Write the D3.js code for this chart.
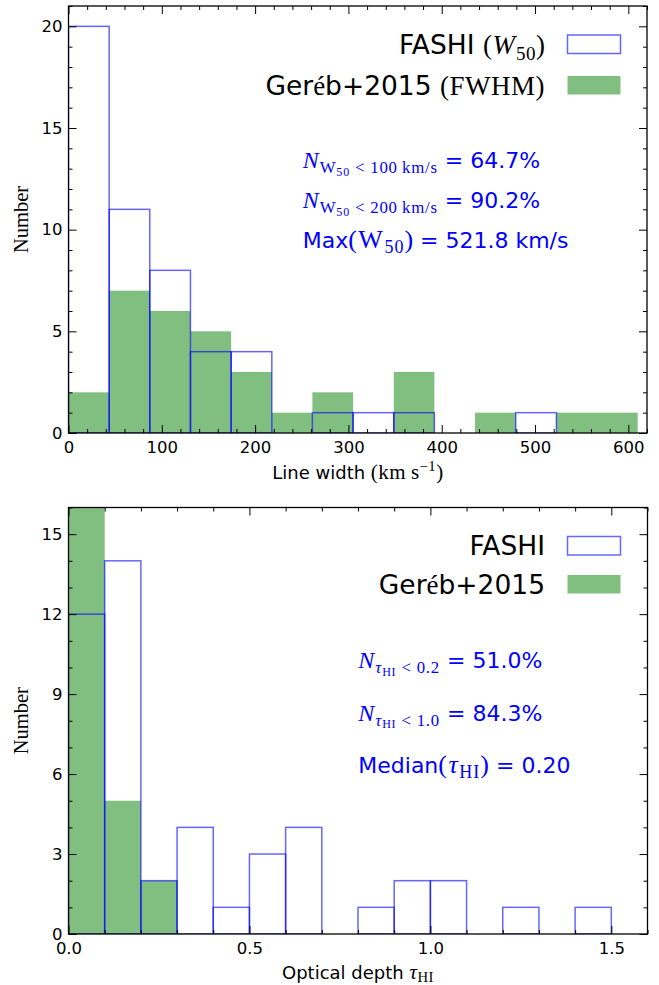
<!DOCTYPE html>
<html>
<head>
<meta charset="utf-8">
<script src="https://cdn.jsdelivr.net/npm/d3@7"></script>
<style>
  html, body { margin: 0; padding: 0; background: #fff; }
  svg { display: block; }
  .tick text { font-family: "DejaVu Sans", sans-serif; font-size: 16.5px; fill: #000; }
  .tick line { stroke: #000; stroke-width: 1; }
</style>
</head>
<body>
<script>
// Line-width histogram (km/s): shared bin edges and counts per survey
const lwEdges  = [0, 43.6, 87.1, 130.7, 174.3, 217.9, 261.4, 305.0, 348.6, 392.1, 435.7, 479.3, 522.9, 566.4, 610.0];
const lwFashi  = [20, 11, 8, 4, 4, 0, 1, 1, 1, 0, 0, 1, 0, 0];
const lwGereb  = [2, 7, 6, 5, 3, 1, 2, 0, 3, 0, 1, 0, 1, 1];
const lwXTicks = [0, 100, 200, 300, 400, 500, 600];
const lwYTicks = [0, 5, 10, 15, 20];

// Optical-depth histogram: bin edges and counts
const tauEdges  = [0, 0.1, 0.2, 0.3, 0.4, 0.5, 0.6, 0.7, 0.8, 0.9, 1.0, 1.1, 1.2, 1.3, 1.4, 1.5];
const tauFashi  = [12, 14, 2, 4, 1, 3, 4, 0, 1, 2, 2, 0, 1, 0, 1];
const tauGereb  = [16, 5, 2, 0, 0, 0, 0, 0, 0, 0, 0, 0, 0, 0, 0];
const tauXTicks = [0, 0.5, 1.0, 1.5];
const tauYTicks = [0, 3, 6, 9, 12, 15];

const W = 659, H = 985;
const SANS = "DejaVu Sans, sans-serif";
const SERIF = "Liberation Serif, DejaVu Serif, serif";
const BLUE = "#0000ff";
const GREEN_FILL = "#80bf80";

const svg = d3.select("body").append("svg")
  .attr("width", W).attr("height", H)
  .attr("viewBox", `0 0 ${W} ${H}`);

// Rich text: a list of runs, each with its own font, spacing and vertical shift
function richText(parent, x, y, runs, anchor, fill) {
  const t = parent.append("text")
    .attr("x", x).attr("y", y)
    .attr("text-anchor", anchor || "start")
    .attr("fill", fill || "#000");
  let prev = 0;
  runs.forEach(r => {
    const shift = r.shift || 0;
    t.append("tspan")
      .attr("dy", shift - prev)
      .attr("font-family", r.serif ? SERIF : SANS)
      .attr("font-style", r.italic ? "italic" : "normal")
      .attr("font-size", r.size + "px")
      .attr("letter-spacing", (r.ls || 0) + "px")
      .style("white-space", "pre")
      .text(r.t);
    prev = shift;
  });
  return t;
}

function panel(cfg) {
  const g = svg.append("g");
  const x = d3.scaleLinear().domain(cfg.xDomain).range([cfg.left, cfg.right]);
  const y = d3.scaleLinear().domain(cfg.yDomain).range([cfg.bottom, cfg.top]);

  const clipId = "clip-" + cfg.id;
  svg.append("clipPath").attr("id", clipId).append("rect")
    .attr("x", cfg.left).attr("y", cfg.top)
    .attr("width", cfg.right - cfg.left).attr("height", cfg.bottom - cfg.top);

  const bars = g.append("g").attr("clip-path", `url(#${clipId})`);

  // Filled comparison sample
  const gereb = cfg.gereb.map((v, i) => ({ x0: cfg.edges[i], x1: cfg.edges[i + 1], v })).filter(d => d.v > 0);
  bars.selectAll("rect.gereb").data(gereb).join("rect")
    .attr("class", "gereb")
    .attr("x", d => x(d.x0)).attr("width", d => x(d.x1) - x(d.x0))
    .attr("y", d => y(d.v)).attr("height", d => y(0) - y(d.v))
    .attr("fill", GREEN_FILL);

  // Outlined FASHI sample on top
  const fashi = cfg.fashi.map((v, i) => ({ x0: cfg.edges[i], x1: cfg.edges[i + 1], v })).filter(d => d.v > 0);
  bars.selectAll("rect.fashi").data(fashi).join("rect")
    .attr("class", "fashi")
    .attr("x", d => x(d.x0)).attr("width", d => x(d.x1) - x(d.x0))
    .attr("y", d => y(d.v)).attr("height", d => y(0) - y(d.v))
    .attr("fill", "none")
    .attr("stroke", BLUE).attr("stroke-opacity", 0.6).attr("stroke-width", 1.5);

  // Axes with inward major and minor ticks on all four sides
  const ax = g.append("g");
  const major = 8, minor = 4;
  ax.append("g").attr("transform", `translate(0,${cfg.bottom})`)
    .call(d3.axisBottom(x).tickValues(cfg.xTicks).tickSize(-major).tickPadding(8).tickFormat(cfg.xFmt));
  ax.append("g").attr("transform", `translate(0,${cfg.bottom})`)
    .call(d3.axisBottom(x).tickValues(cfg.xMinor).tickSize(-minor).tickFormat(""));
  ax.append("g").attr("transform", `translate(0,${cfg.top})`)
    .call(d3.axisTop(x).tickValues(cfg.xTicks).tickSize(-major).tickFormat(""));
  ax.append("g").attr("transform", `translate(0,${cfg.top})`)
    .call(d3.axisTop(x).tickValues(cfg.xMinor).tickSize(-minor).tickFormat(""));
  ax.append("g").attr("transform", `translate(${cfg.left},0)`)
    .call(d3.axisLeft(y).tickValues(cfg.yTicks).tickSize(-major).tickPadding(6).tickFormat(d3.format("d")));
  ax.append("g").attr("transform", `translate(${cfg.left},0)`)
    .call(d3.axisLeft(y).tickValues(cfg.yMinor).tickSize(-minor).tickFormat(""));
  ax.append("g").attr("transform", `translate(${cfg.right},0)`)
    .call(d3.axisRight(y).tickValues(cfg.yTicks).tickSize(-major).tickFormat(""));
  ax.append("g").attr("transform", `translate(${cfg.right},0)`)
    .call(d3.axisRight(y).tickValues(cfg.yMinor).tickSize(-minor).tickFormat(""));
  ax.selectAll(".domain").remove();

  g.append("rect")
    .attr("x", cfg.left).attr("y", cfg.top)
    .attr("width", cfg.right - cfg.left).attr("height", cfg.bottom - cfg.top)
    .attr("fill", "none").attr("stroke", "#000").attr("stroke-width", 1.3);

  // Y label
  g.append("text")
    .attr("transform", `translate(28,${(cfg.top + cfg.bottom) / 2}) rotate(-90)`)
    .attr("text-anchor", "middle")
    .attr("font-family", SERIF).attr("font-size", "20.5px")
    .text("Number");

  // X label
  richText(g, (cfg.left + cfg.right) / 2, cfg.xLabelY, cfg.xLabel, "middle");

  // Legend
  cfg.legend.forEach(row => {
    richText(g, 545, row.y, row.runs, "end");
    const r = g.append("rect")
      .attr("x", 567.5).attr("y", row.y - 18.5)
      .attr("width", 53).attr("height", 18.5);
    if (row.kind === "outline") {
      r.attr("fill", "#fff").attr("stroke", BLUE).attr("stroke-opacity", 0.6).attr("stroke-width", 1.5);
    } else {
      r.attr("fill", GREEN_FILL);
    }
  });

  // Summary statistics
  cfg.notes.forEach(n => richText(g, cfg.noteX, n.y, n.runs, "start", BLUE));
}

// Text sizes: sans body, math main / subscript / second-level subscript
const S = 22, M = 24, M1 = 16.8, M2 = 12;
const MB = 26, MB1 = 18;
const L = 26.5, LM = 27, LM1 = 19;

panel({
  id: "lw",
  left: 68.5, right: 647, top: 6, bottom: 433,
  xDomain: [0, 620], yDomain: [0, 21],
  edges: lwEdges, fashi: lwFashi, gereb: lwGereb,
  xTicks: lwXTicks, yTicks: lwYTicks,
  xMinor: d3.range(0, 621, 20).filter(v => v % 100 !== 0),
  yMinor: d3.range(0, 22, 1).filter(v => v % 5 !== 0),
  xFmt: d3.format("d"),
  xLabelY: 478.5,
  xLabel: [
    { t: "Line width ", size: 18 },
    { t: "(km\u2009s", size: 21, serif: true, ls: 0.5 },
    { t: "\u22121", size: 14.7, serif: true, ls: 0.5, shift: -8 },
    { t: ")", size: 21, serif: true, shift: 0 }
  ],
  legend: [
    { y: 53.5, kind: "outline", runs: [
      { t: "FASHI ", size: L },
      { t: "(", size: LM, serif: true, ls: 0.5 },
      { t: "W", size: LM, serif: true, italic: true, ls: 1 },
      { t: "50", size: LM1, serif: true, ls: 0.5, shift: 6 },
      { t: ")", size: LM, serif: true, shift: 0 }
    ]},
    { y: 94.5, kind: "fill", runs: [
      { t: "Ger", size: L },
      { t: "é", size: LM, serif: true },
      { t: "b+2015 ", size: L },
      { t: "(FWHM)", size: LM, serif: true, ls: 0.5 }
    ]}
  ],
  noteX: 302.7,
  notes: [
    { y: 168.3, runs: [
      { t: "N", size: M, serif: true, italic: true, ls: 1 },
      { t: "W", size: M1, serif: true, ls: 0.8, shift: 5 },
      { t: "50", size: M2, serif: true, ls: 0.8, shift: 7.5 },
      { t: " < 100\u2009km/s", size: M1, serif: true, ls: 0.8, shift: 5 },
      { t: " = 64.7%", size: S, shift: 0 }
    ]},
    { y: 208.3, runs: [
      { t: "N", size: M, serif: true, italic: true, ls: 1 },
      { t: "W", size: M1, serif: true, ls: 0.8, shift: 5 },
      { t: "50", size: M2, serif: true, ls: 0.8, shift: 7.5 },
      { t: " < 200\u2009km/s", size: M1, serif: true, ls: 0.8, shift: 5 },
      { t: " = 90.2%", size: S, shift: 0 }
    ]},
    { y: 248.3, runs: [
      { t: "Max", size: S },
      { t: "(W", size: MB, serif: true, ls: 1.5 },
      { t: "50", size: MB1, serif: true, ls: 1, shift: 5 },
      { t: ")", size: MB, serif: true, shift: 0 },
      { t: " = 521.8 km/s", size: S }
    ]}
  ]
});

panel({
  id: "tau",
  left: 68.5, right: 647.5, top: 507.5, bottom: 934,
  xDomain: [0, 1.6], yDomain: [0, 16],
  edges: tauEdges, fashi: tauFashi, gereb: tauGereb,
  xTicks: tauXTicks, yTicks: tauYTicks,
  xMinor: d3.range(0, 17, 1).filter(v => v % 5 !== 0).map(v => v / 10),
  yMinor: d3.range(0, 17, 1).filter(v => v % 3 !== 0),
  xFmt: d3.format(".1f"),
  xLabelY: 979,
  xLabel: [
    { t: "Optical depth ", size: 18 },
    { t: "τ", size: 21, serif: true, italic: true, ls: 0.5 },
    { t: "HI", size: 14.7, serif: true, ls: 0.5, shift: 2.5 }
  ],
  legend: [
    { y: 555, kind: "outline", runs: [ { t: "FASHI", size: L } ] },
    { y: 593.5, kind: "fill", runs: [
      { t: "Ger", size: L },
      { t: "é", size: LM, serif: true },
      { t: "b+2015", size: L }
    ]}
  ],
  noteX: 358.3,
  notes: [
    { y: 668.3, runs: [
      { t: "N", size: M, serif: true, italic: true, ls: 1 },
      { t: "τ", size: M1, serif: true, italic: true, ls: 0.8, shift: 5 },
      { t: "HI", size: M2, serif: true, ls: 0.8, shift: 7.5 },
      { t: " < 0.2", size: M1, serif: true, ls: 0.8, shift: 5 },
      { t: " = 51.0%", size: S, shift: 0 }
    ]},
    { y: 720.7, runs: [
      { t: "N", size: M, serif: true, italic: true, ls: 1 },
      { t: "τ", size: M1, serif: true, italic: true, ls: 0.8, shift: 5 },
      { t: "HI", size: M2, serif: true, ls: 0.8, shift: 7.5 },
      { t: " < 1.0", size: M1, serif: true, ls: 0.8, shift: 5 },
      { t: " = 84.3%", size: S, shift: 0 }
    ]},
    { y: 773.3, runs: [
      { t: "Median", size: S },
      { t: "(", size: MB, serif: true, ls: 1.5 },
      { t: "τ", size: MB, serif: true, italic: true, ls: 1.5 },
      { t: "HI", size: MB1, serif: true, ls: 1, shift: 5 },
      { t: ")", size: MB, serif: true, shift: 0 },
      { t: " = 0.20", size: S }
    ]}
  ]
});
</script>
</body>
</html>
